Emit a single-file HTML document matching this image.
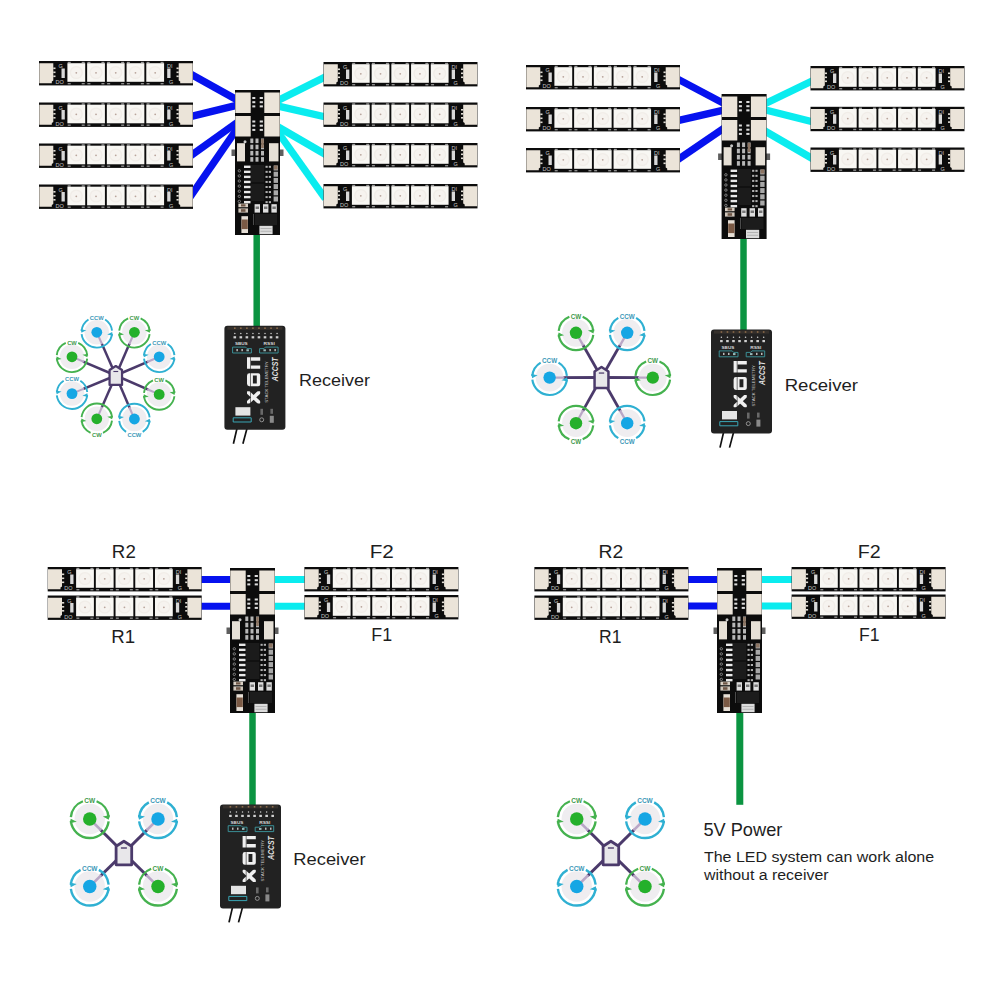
<!DOCTYPE html><html><head><meta charset="utf-8"><style>html,body{margin:0;padding:0;background:#fff;}svg{display:block;}</style></head><body>
<svg width="1000" height="1000" viewBox="0 0 1000 1000">
<defs><g id="strip"><rect x="0" y="0" width="154" height="24.4" fill="#0c0c0c"/><path d="M0.3,2.2 h14 v17.4 l-1.5,0.8 v1.8 h-12.5 z" fill="#ebe4d9"/><path d="M153.7,2.2 h-14 v17.4 l1.5,0.8 v1.8 h12.5 z" fill="#ebe4d9"/><rect x="14.3" y="6.5" width="2.2" height="1.6" fill="#e0dcd4"/><rect x="137.5" y="6.5" width="2.2" height="1.6" fill="#e0dcd4"/><rect x="14.3" y="10.5" width="2.2" height="1.6" fill="#e0dcd4"/><rect x="137.5" y="10.5" width="2.2" height="1.6" fill="#e0dcd4"/><rect x="14.3" y="14.5" width="2.2" height="1.6" fill="#e0dcd4"/><rect x="137.5" y="14.5" width="2.2" height="1.6" fill="#e0dcd4"/><rect x="22.5" y="7.5" width="3.3" height="9.5" fill="#d8d8d8"/><rect x="128.2" y="7.5" width="3.3" height="9.5" fill="#d8d8d8"/><text x="19.5" y="7" font-size="5.5" fill="#c4c4c4" font-family="Liberation Sans">G</text><text x="16.5" y="23" font-size="5.5" fill="#c4c4c4" font-family="Liberation Sans">DO</text><text x="128" y="7" font-size="5.5" fill="#c4c4c4" font-family="Liberation Sans">DI</text><text x="130" y="23" font-size="5.5" fill="#c4c4c4" font-family="Liberation Sans">G</text><rect x="28.7" y="0.8" width="3" height="1.4" fill="#9a9a9a"/><rect x="42.7" y="0.8" width="3" height="1.4" fill="#9a9a9a"/><rect x="28.4" y="2.2" width="17.8" height="18.6" fill="#f8f7f3"/><circle cx="37.3" cy="11.5" r="6.6" fill="#f1ede8"/><circle cx="37.3" cy="11.5" r="5.2" fill="#f6f3ef"/><circle cx="37.3" cy="11.8" r="0.9" fill="#b9a59c"/><rect x="28.7" y="22" width="3" height="1.4" fill="#8a8a8a"/><rect x="42.7" y="22" width="3" height="1.4" fill="#8a8a8a"/><rect x="48.42" y="0.8" width="3" height="1.4" fill="#9a9a9a"/><rect x="62.42" y="0.8" width="3" height="1.4" fill="#9a9a9a"/><rect x="48.12" y="2.2" width="17.8" height="18.6" fill="#f8f7f3"/><circle cx="57.02" cy="11.5" r="6.6" fill="#f1ede8"/><circle cx="57.02" cy="11.5" r="5.2" fill="#f6f3ef"/><circle cx="57.02" cy="11.8" r="0.9" fill="#b9a59c"/><rect x="48.42" y="22" width="3" height="1.4" fill="#8a8a8a"/><rect x="62.42" y="22" width="3" height="1.4" fill="#8a8a8a"/><rect x="68.14" y="0.8" width="3" height="1.4" fill="#9a9a9a"/><rect x="82.14" y="0.8" width="3" height="1.4" fill="#9a9a9a"/><rect x="67.84" y="2.2" width="17.8" height="18.6" fill="#f8f7f3"/><circle cx="76.74" cy="11.5" r="6.6" fill="#f1ede8"/><circle cx="76.74" cy="11.5" r="5.2" fill="#f6f3ef"/><circle cx="76.74" cy="11.8" r="0.9" fill="#b9a59c"/><rect x="68.14" y="22" width="3" height="1.4" fill="#8a8a8a"/><rect x="82.14" y="22" width="3" height="1.4" fill="#8a8a8a"/><rect x="87.86" y="0.8" width="3" height="1.4" fill="#9a9a9a"/><rect x="101.86" y="0.8" width="3" height="1.4" fill="#9a9a9a"/><rect x="87.56" y="2.2" width="17.8" height="18.6" fill="#f8f7f3"/><circle cx="96.46" cy="11.5" r="6.6" fill="#f1ede8"/><circle cx="96.46" cy="11.5" r="5.2" fill="#f6f3ef"/><circle cx="96.46" cy="11.8" r="0.9" fill="#b9a59c"/><rect x="87.86" y="22" width="3" height="1.4" fill="#8a8a8a"/><rect x="101.86" y="22" width="3" height="1.4" fill="#8a8a8a"/><rect x="107.58" y="0.8" width="3" height="1.4" fill="#9a9a9a"/><rect x="121.58" y="0.8" width="3" height="1.4" fill="#9a9a9a"/><rect x="107.28" y="2.2" width="17.8" height="18.6" fill="#f8f7f3"/><circle cx="116.18" cy="11.5" r="6.6" fill="#f1ede8"/><circle cx="116.18" cy="11.5" r="5.2" fill="#f6f3ef"/><circle cx="116.18" cy="11.8" r="0.9" fill="#b9a59c"/><rect x="107.58" y="22" width="3" height="1.4" fill="#8a8a8a"/><rect x="121.58" y="22" width="3" height="1.4" fill="#8a8a8a"/></g><g id="ctrl"><rect x="-3.5" y="59.5" width="5" height="6.5" fill="#5e5e5e"/><rect x="43.5" y="59.5" width="5" height="6.5" fill="#5e5e5e"/><rect x="0" y="0" width="45" height="145" fill="#0c0c0c"/><rect x="0.3" y="2.5" width="15.4" height="20.5" fill="#ebe4d9"/><rect x="29.3" y="2.5" width="15.4" height="20.5" fill="#ebe4d9"/><rect x="0.3" y="26" width="15.4" height="20.5" fill="#ebe4d9"/><rect x="29.3" y="26" width="15.4" height="20.5" fill="#ebe4d9"/><rect x="17.3" y="7" width="3" height="2" fill="#dcdcdc"/><rect x="24.7" y="7" width="3.2" height="2" fill="#dcdcdc"/><rect x="17.3" y="11.2" width="3" height="2" fill="#dcdcdc"/><rect x="24.7" y="11.2" width="3.2" height="2" fill="#dcdcdc"/><rect x="17.3" y="15.4" width="3" height="2" fill="#dcdcdc"/><rect x="24.7" y="15.4" width="3.2" height="2" fill="#dcdcdc"/><rect x="17.3" y="30.5" width="3" height="2" fill="#dcdcdc"/><rect x="24.7" y="30.5" width="3.2" height="2" fill="#dcdcdc"/><rect x="17.3" y="34.7" width="3" height="2" fill="#dcdcdc"/><rect x="24.7" y="34.7" width="3.2" height="2" fill="#dcdcdc"/><rect x="17.3" y="38.9" width="3" height="2" fill="#dcdcdc"/><rect x="24.7" y="38.9" width="3.2" height="2" fill="#dcdcdc"/><rect x="2" y="53.2" width="8" height="18.2" fill="#e6e0d6"/><rect x="34" y="53.2" width="9.5" height="18.2" fill="#e6e0d6"/><circle cx="10" cy="51.8" r="1.5" fill="#c8c8c8"/><rect x="15.3" y="48.5" width="3" height="4.6" fill="#d6d6d6" opacity="0.85"/><rect x="15.3" y="54.7" width="3" height="4.6" fill="#d6d6d6" opacity="0.85"/><rect x="15.3" y="60.9" width="3" height="4.6" fill="#d6d6d6" opacity="0.85"/><rect x="15.3" y="67.1" width="3" height="4.6" fill="#d6d6d6" opacity="0.85"/><rect x="20.5" y="48.5" width="3" height="4.6" fill="#d6d6d6" opacity="0.85"/><rect x="20.5" y="54.7" width="3" height="4.6" fill="#d6d6d6" opacity="0.85"/><rect x="20.5" y="60.9" width="3" height="4.6" fill="#d6d6d6" opacity="0.85"/><rect x="20.5" y="67.1" width="3" height="4.6" fill="#d6d6d6" opacity="0.85"/><rect x="26" y="48.5" width="3" height="4.6" fill="#d6d6d6" opacity="0.85"/><rect x="26" y="54.7" width="3" height="4.6" fill="#d6d6d6" opacity="0.85"/><rect x="26" y="60.9" width="3" height="4.6" fill="#d6d6d6" opacity="0.85"/><rect x="26" y="67.1" width="3" height="4.6" fill="#d6d6d6" opacity="0.85"/><rect x="26.2" y="49" width="2.6" height="9" fill="#8c7462"/><rect x="16" y="75" width="13.3" height="17.4" fill="#1b1b1b"/><rect x="16" y="93.6" width="13.3" height="17.4" fill="#1b1b1b"/><rect x="9" y="75.6" width="6.5" height="2.4" fill="#e8e8e8"/><rect x="30.5" y="75.8" width="2.2" height="2" fill="#b0b0b0"/><rect x="33.8" y="75.8" width="2.2" height="2" fill="#b0b0b0"/><rect x="9" y="80.65" width="6.5" height="2.4" fill="#e8e8e8"/><rect x="30.5" y="80.85" width="2.2" height="2" fill="#b0b0b0"/><rect x="33.8" y="80.85" width="2.2" height="2" fill="#b0b0b0"/><rect x="9" y="85.7" width="6.5" height="2.4" fill="#e8e8e8"/><rect x="30.5" y="85.9" width="2.2" height="2" fill="#b0b0b0"/><rect x="33.8" y="85.9" width="2.2" height="2" fill="#b0b0b0"/><rect x="9" y="90.75" width="6.5" height="2.4" fill="#e8e8e8"/><rect x="30.5" y="90.95" width="2.2" height="2" fill="#b0b0b0"/><rect x="33.8" y="90.95" width="2.2" height="2" fill="#b0b0b0"/><rect x="9" y="95.8" width="6.5" height="2.4" fill="#e8e8e8"/><rect x="30.5" y="96" width="2.2" height="2" fill="#b0b0b0"/><rect x="33.8" y="96" width="2.2" height="2" fill="#b0b0b0"/><rect x="9" y="100.85" width="6.5" height="2.4" fill="#e8e8e8"/><rect x="30.5" y="101.05" width="2.2" height="2" fill="#b0b0b0"/><rect x="33.8" y="101.05" width="2.2" height="2" fill="#b0b0b0"/><rect x="9" y="105.9" width="6.5" height="2.4" fill="#e8e8e8"/><rect x="30.5" y="106.1" width="2.2" height="2" fill="#b0b0b0"/><rect x="33.8" y="106.1" width="2.2" height="2" fill="#b0b0b0"/><rect x="9" y="110.95" width="6.5" height="2.4" fill="#e8e8e8"/><rect x="30.5" y="111.15" width="2.2" height="2" fill="#b0b0b0"/><rect x="33.8" y="111.15" width="2.2" height="2" fill="#b0b0b0"/><circle cx="4.3" cy="80.8" r="1.2" fill="none" stroke="#a8a8a8" stroke-width="0.7"/><circle cx="4.3" cy="85.9" r="1.2" fill="none" stroke="#a8a8a8" stroke-width="0.7"/><circle cx="4.3" cy="91" r="1.2" fill="none" stroke="#a8a8a8" stroke-width="0.7"/><circle cx="4.3" cy="96.1" r="1.2" fill="none" stroke="#a8a8a8" stroke-width="0.7"/><circle cx="4.3" cy="101.2" r="1.2" fill="none" stroke="#a8a8a8" stroke-width="0.7"/><circle cx="4.3" cy="106.3" r="1.2" fill="none" stroke="#a8a8a8" stroke-width="0.7"/><circle cx="4.3" cy="111.4" r="1.2" fill="none" stroke="#a8a8a8" stroke-width="0.7"/><rect x="38.6" y="75.5" width="4.4" height="5" fill="#cfcfcf" opacity="0.8"/><rect x="38.6" y="81.7" width="4.4" height="5" fill="#cfcfcf" opacity="0.8"/><rect x="38.6" y="87.9" width="4.4" height="5" fill="#cfcfcf" opacity="0.8"/><rect x="38.6" y="94.1" width="4.4" height="5" fill="#cfcfcf" opacity="0.8"/><rect x="38.6" y="100.3" width="4.4" height="5" fill="#cfcfcf" opacity="0.8"/><rect x="38.6" y="106.5" width="4.4" height="5" fill="#cfcfcf" opacity="0.8"/><rect x="39" y="75.5" width="3.6" height="4" fill="#8c7462"/><rect x="3.4" y="113.6" width="9.6" height="3.6" fill="#d8cfc4"/><rect x="3.4" y="118.4" width="9.6" height="4.2" fill="#cfc6bb"/><rect x="6" y="114.3" width="4.5" height="2.2" fill="#6e5646"/><rect x="6" y="119.2" width="4.5" height="2.6" fill="#6e5646"/><rect x="19.6" y="114.2" width="5.4" height="8.4" fill="#dedede"/><rect x="20.6" y="116.5" width="3.4" height="2.5" fill="#777"/><rect x="28" y="114.2" width="5.4" height="8.4" fill="#dedede"/><rect x="29" y="116.5" width="3.4" height="2.5" fill="#777"/><rect x="36.4" y="114.2" width="5.4" height="8.4" fill="#dedede"/><rect x="37.4" y="116.5" width="3.4" height="2.5" fill="#777"/><rect x="18.4" y="124" width="0.6" height="11" fill="#777"/><rect x="20" y="124" width="22" height="11" fill="#1c1c1c"/><rect x="6.4" y="126.2" width="6.6" height="16.8" fill="#e6dfd6"/><rect x="6.6" y="129.5" width="6.2" height="9.6" fill="#7b5a45"/><rect x="24.4" y="135.8" width="13.2" height="8.4" fill="#dcdcdc"/><rect x="25.5" y="138" width="11" height="0.8" fill="#aaa"/><rect x="25.5" y="140.8" width="11" height="0.8" fill="#aaa"/></g><clipPath id="xclip"><rect x="22.6" y="65.4" width="13.2" height="12.3"/></clipPath><g id="rx"><line x1="12.5" y1="103" x2="9" y2="118" stroke="#111" stroke-width="1.7"/><line x1="22.5" y1="103" x2="18.5" y2="118" stroke="#111" stroke-width="1.7"/><rect x="0" y="0" width="61" height="104" rx="3" fill="#222"/><rect x="3" y="1" width="55" height="3" fill="#35302c"/><rect x="9.6" y="1.6" width="1.6" height="1.6" fill="#8a6a4a"/><circle cx="10.4" cy="7.6" r="0.75" fill="#cfcfcf"/><rect x="9.1" y="10.4" width="2.6" height="2.2" fill="#d0d0d0"/><rect x="15.64" y="1.6" width="1.6" height="1.6" fill="#8a6a4a"/><circle cx="16.44" cy="7.6" r="0.75" fill="#cfcfcf"/><rect x="15.14" y="10.4" width="2.6" height="2.2" fill="#d0d0d0"/><rect x="21.68" y="1.6" width="1.6" height="1.6" fill="#8a6a4a"/><circle cx="22.48" cy="7.6" r="0.75" fill="#cfcfcf"/><rect x="21.18" y="10.4" width="2.6" height="2.2" fill="#d0d0d0"/><rect x="27.72" y="1.6" width="1.6" height="1.6" fill="#8a6a4a"/><circle cx="28.52" cy="7.6" r="0.75" fill="#cfcfcf"/><rect x="27.22" y="10.4" width="2.6" height="2.2" fill="#d0d0d0"/><rect x="33.76" y="1.6" width="1.6" height="1.6" fill="#8a6a4a"/><circle cx="34.56" cy="7.6" r="0.75" fill="#cfcfcf"/><rect x="33.26" y="10.4" width="2.6" height="2.2" fill="#d0d0d0"/><rect x="39.8" y="1.6" width="1.6" height="1.6" fill="#8a6a4a"/><circle cx="40.6" cy="7.6" r="0.75" fill="#cfcfcf"/><rect x="39.3" y="10.4" width="2.6" height="2.2" fill="#d0d0d0"/><rect x="45.84" y="1.6" width="1.6" height="1.6" fill="#8a6a4a"/><circle cx="46.64" cy="7.6" r="0.75" fill="#cfcfcf"/><rect x="45.34" y="10.4" width="2.6" height="2.2" fill="#d0d0d0"/><rect x="51.88" y="1.6" width="1.6" height="1.6" fill="#8a6a4a"/><circle cx="52.68" cy="7.6" r="0.75" fill="#cfcfcf"/><rect x="51.38" y="10.4" width="2.6" height="2.2" fill="#d0d0d0"/><text x="10.5" y="19.3" font-size="4.4" font-weight="bold" fill="#d8d8d8" font-family="Liberation Sans" textLength="12.8" lengthAdjust="spacingAndGlyphs">SBUS</text><text x="39.2" y="19.3" font-size="4.4" font-weight="bold" fill="#d8d8d8" font-family="Liberation Sans" textLength="11.2" lengthAdjust="spacingAndGlyphs">RSSI</text><path d="M8.2,21.3 h13 l1.5,1.5 h4.3 v4.4 h-18.8 z" fill="none" stroke="#3d9aa2" stroke-width="0.9"/><path d="M35.2,22.8 h4.3 l1.5,-1.5 h12.7 v5.9 h-18.5 z" fill="none" stroke="#3d9aa2" stroke-width="0.9"/><rect x="12" y="23.2" width="1.5" height="2.2" fill="#bbb"/><rect x="17" y="23.2" width="1.5" height="2.2" fill="#bbb"/><rect x="22" y="23.5" width="2.5" height="2" fill="#9bb"/><rect x="39" y="23.5" width="2.5" height="2" fill="#9bb"/><rect x="45" y="23.2" width="1.5" height="2.2" fill="#bbb"/><rect x="50" y="23.2" width="1.5" height="2.2" fill="#bbb"/><path d="M8.8,92 h18 v4.2 h-18 z" fill="none" stroke="#3aa6b5" stroke-width="1"/><path d="M22.6,31.5 h13.2 v3.4 h-9.3 v4.7 h9.3 v3.4 h-13.2 z" fill="#f0f0f0"/><path d="M25,47.5 h8.8 a2,2 0 0 1 2,2 v8.9 a2,2 0 0 1 -2,2 h-8.8 a2.4,2.4 0 0 1 -2.4,-2.4 v-8.1 a2.4,2.4 0 0 1 2.4,-2.4 z M28.5,49.7 v7.9 h3.9 v-7.9 z" fill="#f0f0f0" fill-rule="evenodd"/><g clip-path="url(#xclip)"><line x1="22.6" y1="65.4" x2="35.8" y2="77.7" stroke="#f0f0f0" stroke-width="3.6"/><line x1="22.6" y1="77.7" x2="35.8" y2="65.4" stroke="#f0f0f0" stroke-width="3.6"/></g><rect x="25.8" y="31" width="0.6" height="47" fill="#222"/><text transform="translate(43.8,77) rotate(-90)" font-size="4" fill="#c8c8c8" font-family="Liberation Sans" textLength="41.6" lengthAdjust="spacingAndGlyphs">STACK TELEMETRY</text><text transform="translate(53.8,55.4) rotate(-90)" font-size="8.3" font-style="italic" font-weight="bold" fill="#e0e0e0" font-family="Liberation Sans" textLength="23.6" lengthAdjust="spacingAndGlyphs">ACCST</text><rect x="11" y="81.4" width="15" height="8.4" fill="#e4e4e4"/><rect x="45.4" y="90" width="4" height="7" fill="#8a8a8a"/><circle cx="37.3" cy="94" r="2" fill="none" stroke="#aaa" stroke-width="0.8"/><rect x="36" y="83" width="2.6" height="6" fill="#999" opacity="0.6"/><rect x="46" y="83" width="2.6" height="5" fill="#999" opacity="0.6"/></g></defs>
<rect width="1000" height="1000" fill="#fff"/>
<line x1="188.71" y1="72.95" x2="238.19" y2="100.55" stroke="#0612ef" stroke-width="7.3"/>
<line x1="188.31" y1="117.15" x2="238.59" y2="104.85" stroke="#0612ef" stroke-width="7.3"/>
<line x1="188.95" y1="157.03" x2="237.95" y2="121.87" stroke="#0612ef" stroke-width="7.3"/>
<line x1="189.93" y1="197.3" x2="236.97" y2="128.9" stroke="#0612ef" stroke-width="7.3"/>
<line x1="326.58" y1="76.21" x2="276.42" y2="101.29" stroke="#0aecef" stroke-width="7.3"/>
<line x1="326.9" y1="117.3" x2="276.1" y2="105.6" stroke="#0aecef" stroke-width="7.3"/>
<line x1="326.46" y1="155.01" x2="276.54" y2="125.99" stroke="#0aecef" stroke-width="7.3"/>
<line x1="325.32" y1="198.76" x2="277.68" y2="131.74" stroke="#0aecef" stroke-width="7.3"/>
<line x1="675.96" y1="78.13" x2="725.54" y2="104.37" stroke="#0612ef" stroke-width="7.3"/>
<line x1="675.6" y1="121.14" x2="725.9" y2="109.61" stroke="#0612ef" stroke-width="7.3"/>
<line x1="676.2" y1="160.75" x2="725.3" y2="127.25" stroke="#0612ef" stroke-width="7.3"/>
<line x1="814.1" y1="80.01" x2="763.9" y2="104.24" stroke="#0aecef" stroke-width="7.3"/>
<line x1="814.38" y1="122.22" x2="763.62" y2="109.53" stroke="#0aecef" stroke-width="7.3"/>
<line x1="813.96" y1="159.51" x2="764.04" y2="130.49" stroke="#0aecef" stroke-width="7.3"/>
<line x1="198" y1="579.4" x2="234" y2="579.4" stroke="#0612ef" stroke-width="7"/>
<line x1="198" y1="606.3" x2="234" y2="606.3" stroke="#0612ef" stroke-width="7"/>
<line x1="272" y1="579.6" x2="308" y2="579.6" stroke="#0aecef" stroke-width="7"/>
<line x1="272" y1="606.2" x2="308" y2="606.2" stroke="#0aecef" stroke-width="7"/>
<line x1="685" y1="579.6" x2="721" y2="579.6" stroke="#0612ef" stroke-width="7"/>
<line x1="685" y1="606" x2="721" y2="606" stroke="#0612ef" stroke-width="7"/>
<line x1="759" y1="579.6" x2="795" y2="579.6" stroke="#0aecef" stroke-width="7"/>
<line x1="759" y1="606" x2="795" y2="606" stroke="#0aecef" stroke-width="7"/>
<line x1="256.7" y1="230" x2="256.7" y2="328" stroke="#0b9441" stroke-width="6.5"/>
<line x1="743.5" y1="235" x2="743.5" y2="332" stroke="#0b9441" stroke-width="6.5"/>
<line x1="252.5" y1="709" x2="252.5" y2="807" stroke="#0b9441" stroke-width="6.5"/>
<line x1="739.8" y1="709" x2="739.8" y2="804.8" stroke="#0b9441" stroke-width="7"/>
<use href="#strip" x="39" y="61" />
<use href="#strip" x="39" y="102.5" />
<use href="#strip" x="39" y="143.5" />
<use href="#strip" x="39" y="184.5" />
<use href="#strip" x="323.5" y="62" />
<use href="#strip" x="323.5" y="102.5" />
<use href="#strip" x="323.5" y="143" />
<use href="#strip" x="323.5" y="184" />
<use href="#strip" x="526" y="65" />
<use href="#strip" x="526" y="107" />
<use href="#strip" x="526" y="148" />
<use href="#strip" x="810.5" y="66" />
<use href="#strip" x="810.5" y="106.8" />
<use href="#strip" x="810.5" y="147.5" />
<use href="#strip" x="47.7" y="567" />
<use href="#strip" x="47.7" y="595.5" />
<use href="#strip" x="304.4" y="567" />
<use href="#strip" x="304.4" y="595" />
<use href="#strip" x="534.4" y="567" />
<use href="#strip" x="534.4" y="595.5" />
<use href="#strip" x="791.6" y="567" />
<use href="#strip" x="791.6" y="594.5" />
<use href="#ctrl" x="235" y="90" />
<use href="#ctrl" x="721.6" y="94" />
<use href="#ctrl" x="230" y="568" />
<use href="#ctrl" x="717" y="568" />
<use href="#rx" x="224.4" y="325.8" />
<use href="#rx" x="711" y="329.6" />
<use href="#rx" x="220" y="804.4" />
<text x="0" y="386.2" font-size="17.4" fill="#1e1e1e" font-family="Liberation Sans, sans-serif" transform="translate(299.120,0) scale(1.0334,1)">Receiver</text>
<text x="0" y="391" font-size="17.4" fill="#1e1e1e" font-family="Liberation Sans, sans-serif" transform="translate(784.651,0) scale(1.0694,1)">Receiver</text>
<text x="0" y="865.5" font-size="17.4" fill="#1e1e1e" font-family="Liberation Sans, sans-serif" transform="translate(293.315,0) scale(1.0541,1)">Receiver</text>
<text x="0" y="558" font-size="17.6" fill="#1e1e1e" font-family="Liberation Sans, sans-serif" transform="translate(111.872,0) scale(1.0639,1)">R2</text>
<text x="0" y="643" font-size="17.6" fill="#1e1e1e" font-family="Liberation Sans, sans-serif" transform="translate(111.290,0) scale(1.0612,1)">R1</text>
<text x="0" y="558" font-size="17.6" fill="#1e1e1e" font-family="Liberation Sans, sans-serif" transform="translate(369.647,0) scale(1.1765,1)">F2</text>
<text x="0" y="641" font-size="17.6" fill="#1e1e1e" font-family="Liberation Sans, sans-serif" transform="translate(371.354,0) scale(1.0127,1)">F1</text>
<text x="0" y="558" font-size="17.6" fill="#1e1e1e" font-family="Liberation Sans, sans-serif" transform="translate(598.461,0) scale(1.0959,1)">R2</text>
<text x="0" y="643" font-size="17.6" fill="#1e1e1e" font-family="Liberation Sans, sans-serif" transform="translate(599.000,0) scale(1.0000,1)">R1</text>
<text x="0" y="557.6" font-size="17.6" fill="#1e1e1e" font-family="Liberation Sans, sans-serif" transform="translate(857.765,0) scale(1.1176,1)">F2</text>
<text x="0" y="641" font-size="17.6" fill="#1e1e1e" font-family="Liberation Sans, sans-serif" transform="translate(859.000,0) scale(1.0000,1)">F1</text>
<text x="0" y="836.5" font-size="17.8" fill="#1e1e1e" font-family="Liberation Sans, sans-serif" transform="translate(703.393,0) scale(1.0232,1)">5V Power</text>
<text x="0" y="862" font-size="15.2" fill="#1e1e1e" font-family="Liberation Sans, sans-serif" transform="translate(703.947,0) scale(1.0528,1)">The LED system can work alone</text>
<text x="0" y="879.7" font-size="15.2" fill="#1e1e1e" font-family="Liberation Sans, sans-serif" transform="translate(703.954,0) scale(1.0462,1)">without a receiver</text>
<line x1="115.8" y1="375.5" x2="96.8" y2="332.3" stroke="#4b3a6b" stroke-width="2.48"/>
<line x1="115.8" y1="375.5" x2="134.4" y2="332.3" stroke="#4b3a6b" stroke-width="2.48"/>
<line x1="115.8" y1="375.5" x2="159.2" y2="356.8" stroke="#4b3a6b" stroke-width="2.48"/>
<line x1="115.8" y1="375.5" x2="159.2" y2="394.4" stroke="#4b3a6b" stroke-width="2.48"/>
<line x1="115.8" y1="375.5" x2="134.4" y2="419" stroke="#4b3a6b" stroke-width="2.48"/>
<line x1="115.8" y1="375.5" x2="96.8" y2="418.8" stroke="#4b3a6b" stroke-width="2.48"/>
<line x1="115.8" y1="375.5" x2="72" y2="393.6" stroke="#4b3a6b" stroke-width="2.48"/>
<line x1="115.8" y1="375.5" x2="72" y2="356.8" stroke="#4b3a6b" stroke-width="2.48"/>
<circle cx="96.8" cy="332.3" r="12.24" fill="#efedf0"/>
<line x1="96.8" y1="332.3" x2="102.04" y2="344.2" stroke="#b9a6c6" stroke-width="2.08"/>
<g transform="translate(96.8,332.3) scale(-1,1)"><path d="M8.33,-12.84 A15.3,15.3 0 0 1 15.24,-1.33" fill="none" stroke="#2fb0d2" stroke-width="1.91"/><path d="M15.19,1.86 A15.3,15.3 0 0 1 -15.22,1.6" fill="none" stroke="#2fb0d2" stroke-width="1.91"/><path d="M-15.22,-1.6 A15.3,15.3 0 0 1 -8.33,-12.84" fill="none" stroke="#2fb0d2" stroke-width="1.91"/><path d="M15.29,0.53 L16.15,-3.14 L10.51,-2.04 Z" fill="#2fb0d2"/><path d="M-15.3,-0.27 L-16.09,3.42 L-10.48,2.23 Z" fill="#2fb0d2"/></g>
<circle cx="96.8" cy="332.3" r="5.4" fill="#16a6e4"/>
<text x="96.8" y="320.02" font-size="5.8" font-weight="bold" fill="#3b98b8" font-family="Liberation Sans, sans-serif" text-anchor="middle">CCW</text>
<circle cx="134.4" cy="332.3" r="12.24" fill="#efedf0"/>
<line x1="134.4" y1="332.3" x2="129.26" y2="344.24" stroke="#b9a6c6" stroke-width="2.08"/>
<g transform="translate(134.4,332.3)"><path d="M6.23,-13.97 A15.3,15.3 0 0 1 15.24,-1.33" fill="none" stroke="#45b24f" stroke-width="1.91"/><path d="M15.19,1.86 A15.3,15.3 0 0 1 -15.22,1.6" fill="none" stroke="#45b24f" stroke-width="1.91"/><path d="M-15.22,-1.6 A15.3,15.3 0 0 1 -6.23,-13.97" fill="none" stroke="#45b24f" stroke-width="1.91"/><path d="M15.29,0.53 L16.15,-3.14 L10.51,-2.04 Z" fill="#45b24f"/><path d="M-15.3,-0.27 L-16.09,3.42 L-10.48,2.23 Z" fill="#45b24f"/></g>
<circle cx="134.4" cy="332.3" r="5.4" fill="#25b02b"/>
<text x="134.4" y="320.02" font-size="5.8" font-weight="bold" fill="#3f9a4c" font-family="Liberation Sans, sans-serif" text-anchor="middle">CW</text>
<circle cx="159.2" cy="356.8" r="12.24" fill="#efedf0"/>
<line x1="159.2" y1="356.8" x2="147.26" y2="361.95" stroke="#b9a6c6" stroke-width="2.08"/>
<g transform="translate(159.2,356.8) scale(-1,1)"><path d="M8.33,-12.84 A15.3,15.3 0 0 1 15.24,-1.33" fill="none" stroke="#2fb0d2" stroke-width="1.91"/><path d="M15.19,1.86 A15.3,15.3 0 0 1 -15.22,1.6" fill="none" stroke="#2fb0d2" stroke-width="1.91"/><path d="M-15.22,-1.6 A15.3,15.3 0 0 1 -8.33,-12.84" fill="none" stroke="#2fb0d2" stroke-width="1.91"/><path d="M15.29,0.53 L16.15,-3.14 L10.51,-2.04 Z" fill="#2fb0d2"/><path d="M-15.3,-0.27 L-16.09,3.42 L-10.48,2.23 Z" fill="#2fb0d2"/></g>
<circle cx="159.2" cy="356.8" r="5.4" fill="#16a6e4"/>
<text x="159.2" y="344.52" font-size="5.8" font-weight="bold" fill="#3b98b8" font-family="Liberation Sans, sans-serif" text-anchor="middle">CCW</text>
<circle cx="159.2" cy="394.4" r="12.24" fill="#efedf0"/>
<line x1="159.2" y1="394.4" x2="147.28" y2="389.21" stroke="#b9a6c6" stroke-width="2.08"/>
<g transform="translate(159.2,394.4)"><path d="M6.23,-13.97 A15.3,15.3 0 0 1 15.24,-1.33" fill="none" stroke="#45b24f" stroke-width="1.91"/><path d="M15.19,1.86 A15.3,15.3 0 0 1 -15.22,1.6" fill="none" stroke="#45b24f" stroke-width="1.91"/><path d="M-15.22,-1.6 A15.3,15.3 0 0 1 -6.23,-13.97" fill="none" stroke="#45b24f" stroke-width="1.91"/><path d="M15.29,0.53 L16.15,-3.14 L10.51,-2.04 Z" fill="#45b24f"/><path d="M-15.3,-0.27 L-16.09,3.42 L-10.48,2.23 Z" fill="#45b24f"/></g>
<circle cx="159.2" cy="394.4" r="5.4" fill="#25b02b"/>
<text x="159.2" y="382.12" font-size="5.8" font-weight="bold" fill="#3f9a4c" font-family="Liberation Sans, sans-serif" text-anchor="middle">CW</text>
<circle cx="134.4" cy="419" r="12.24" fill="#efedf0"/>
<line x1="134.4" y1="419" x2="129.29" y2="407.04" stroke="#b9a6c6" stroke-width="2.08"/>
<g transform="translate(134.4,419) scale(-1,1)"><path d="M-15.22,-1.6 A15.3,15.3 0 0 1 15.24,-1.33" fill="none" stroke="#2fb0d2" stroke-width="1.91"/><path d="M15.19,1.86 A15.3,15.3 0 0 1 8.33,12.84" fill="none" stroke="#2fb0d2" stroke-width="1.91"/><path d="M-8.33,12.84 A15.3,15.3 0 0 1 -15.22,1.6" fill="none" stroke="#2fb0d2" stroke-width="1.91"/><path d="M15.29,0.53 L16.15,-3.14 L10.51,-2.04 Z" fill="#2fb0d2"/><path d="M-15.3,-0.27 L-16.09,3.42 L-10.48,2.23 Z" fill="#2fb0d2"/></g>
<circle cx="134.4" cy="419" r="5.4" fill="#16a6e4"/>
<text x="134.4" y="437.03" font-size="5.8" font-weight="bold" fill="#3b98b8" font-family="Liberation Sans, sans-serif" text-anchor="middle">CCW</text>
<circle cx="96.8" cy="418.8" r="12.24" fill="#efedf0"/>
<line x1="96.8" y1="418.8" x2="102.03" y2="406.89" stroke="#b9a6c6" stroke-width="2.08"/>
<g transform="translate(96.8,418.8)"><path d="M-15.22,-1.6 A15.3,15.3 0 0 1 15.24,-1.33" fill="none" stroke="#45b24f" stroke-width="1.91"/><path d="M15.19,1.86 A15.3,15.3 0 0 1 6.23,13.97" fill="none" stroke="#45b24f" stroke-width="1.91"/><path d="M-6.23,13.97 A15.3,15.3 0 0 1 -15.22,1.6" fill="none" stroke="#45b24f" stroke-width="1.91"/><path d="M15.29,0.53 L16.15,-3.14 L10.51,-2.04 Z" fill="#45b24f"/><path d="M-15.3,-0.27 L-16.09,3.42 L-10.48,2.23 Z" fill="#45b24f"/></g>
<circle cx="96.8" cy="418.8" r="5.4" fill="#25b02b"/>
<text x="96.8" y="436.83" font-size="5.8" font-weight="bold" fill="#3f9a4c" font-family="Liberation Sans, sans-serif" text-anchor="middle">CW</text>
<circle cx="72" cy="393.6" r="12.24" fill="#efedf0"/>
<line x1="72" y1="393.6" x2="84.02" y2="388.63" stroke="#b9a6c6" stroke-width="2.08"/>
<g transform="translate(72,393.6) scale(-1,1)"><path d="M8.33,-12.84 A15.3,15.3 0 0 1 15.24,-1.33" fill="none" stroke="#2fb0d2" stroke-width="1.91"/><path d="M15.19,1.86 A15.3,15.3 0 0 1 -15.22,1.6" fill="none" stroke="#2fb0d2" stroke-width="1.91"/><path d="M-15.22,-1.6 A15.3,15.3 0 0 1 -8.33,-12.84" fill="none" stroke="#2fb0d2" stroke-width="1.91"/><path d="M15.29,0.53 L16.15,-3.14 L10.51,-2.04 Z" fill="#2fb0d2"/><path d="M-15.3,-0.27 L-16.09,3.42 L-10.48,2.23 Z" fill="#2fb0d2"/></g>
<circle cx="72" cy="393.6" r="5.4" fill="#16a6e4"/>
<text x="72" y="381.32" font-size="5.8" font-weight="bold" fill="#3b98b8" font-family="Liberation Sans, sans-serif" text-anchor="middle">CCW</text>
<circle cx="72" cy="356.8" r="12.24" fill="#efedf0"/>
<line x1="72" y1="356.8" x2="83.96" y2="361.91" stroke="#b9a6c6" stroke-width="2.08"/>
<g transform="translate(72,356.8)"><path d="M6.23,-13.97 A15.3,15.3 0 0 1 15.24,-1.33" fill="none" stroke="#45b24f" stroke-width="1.91"/><path d="M15.19,1.86 A15.3,15.3 0 0 1 -15.22,1.6" fill="none" stroke="#45b24f" stroke-width="1.91"/><path d="M-15.22,-1.6 A15.3,15.3 0 0 1 -6.23,-13.97" fill="none" stroke="#45b24f" stroke-width="1.91"/><path d="M15.29,0.53 L16.15,-3.14 L10.51,-2.04 Z" fill="#45b24f"/><path d="M-15.3,-0.27 L-16.09,3.42 L-10.48,2.23 Z" fill="#45b24f"/></g>
<circle cx="72" cy="356.8" r="5.4" fill="#25b02b"/>
<text x="72" y="344.52" font-size="5.8" font-weight="bold" fill="#3f9a4c" font-family="Liberation Sans, sans-serif" text-anchor="middle">CW</text>
<path d="M115.8,366.06 L122.04,370.06 L122.04,384.94 L109.56,384.94 L109.56,370.06 Z" fill="#e8e7ea" stroke="#4b3a6b" stroke-width="2.24" stroke-linejoin="round"/>
<line x1="113.4" y1="371.5" x2="118.2" y2="371.5" stroke="#4b3a6b" stroke-width="1.12"/>
<line x1="601.5" y1="377.5" x2="576" y2="332.8" stroke="#4b3a6b" stroke-width="2.76"/>
<line x1="601.5" y1="377.5" x2="627.2" y2="332.8" stroke="#4b3a6b" stroke-width="2.76"/>
<line x1="601.5" y1="377.5" x2="652.8" y2="377.6" stroke="#4b3a6b" stroke-width="2.76"/>
<line x1="601.5" y1="377.5" x2="627.2" y2="423.2" stroke="#4b3a6b" stroke-width="2.76"/>
<line x1="601.5" y1="377.5" x2="576" y2="423.2" stroke="#4b3a6b" stroke-width="2.76"/>
<line x1="601.5" y1="377.5" x2="549.6" y2="377.6" stroke="#4b3a6b" stroke-width="2.76"/>
<circle cx="576" cy="332.8" r="13.92" fill="#efedf0"/>
<line x1="576" y1="332.8" x2="583.33" y2="345.65" stroke="#b9a6c6" stroke-width="2.31"/>
<g transform="translate(576,332.8)"><path d="M6.65,-16.08 A17.4,17.4 0 0 1 17.33,-1.52" fill="none" stroke="#45b24f" stroke-width="2.17"/><path d="M17.27,2.12 A17.4,17.4 0 0 1 -17.3,1.82" fill="none" stroke="#45b24f" stroke-width="2.17"/><path d="M-17.3,-1.82 A17.4,17.4 0 0 1 -6.65,-16.08" fill="none" stroke="#45b24f" stroke-width="2.17"/><path d="M17.39,0.61 L18.36,-3.57 L11.96,-2.32 Z" fill="#45b24f"/><path d="M-17.4,-0.3 L-18.3,3.89 L-11.91,2.53 Z" fill="#45b24f"/></g>
<circle cx="576" cy="332.8" r="6.2" fill="#25b02b"/>
<text x="576" y="318.68" font-size="6.3" font-weight="bold" fill="#3f9a4c" font-family="Liberation Sans, sans-serif" text-anchor="middle">CW</text>
<circle cx="627.2" cy="332.8" r="13.92" fill="#efedf0"/>
<line x1="627.2" y1="332.8" x2="619.83" y2="345.62" stroke="#b9a6c6" stroke-width="2.31"/>
<g transform="translate(627.2,332.8) scale(-1,1)"><path d="M8.92,-14.94 A17.4,17.4 0 0 1 17.33,-1.52" fill="none" stroke="#2fb0d2" stroke-width="2.17"/><path d="M17.27,2.12 A17.4,17.4 0 0 1 -17.3,1.82" fill="none" stroke="#2fb0d2" stroke-width="2.17"/><path d="M-17.3,-1.82 A17.4,17.4 0 0 1 -8.92,-14.94" fill="none" stroke="#2fb0d2" stroke-width="2.17"/><path d="M17.39,0.61 L18.36,-3.57 L11.96,-2.32 Z" fill="#2fb0d2"/><path d="M-17.4,-0.3 L-18.3,3.89 L-11.91,2.53 Z" fill="#2fb0d2"/></g>
<circle cx="627.2" cy="332.8" r="6.2" fill="#16a6e4"/>
<text x="627.2" y="318.68" font-size="6.3" font-weight="bold" fill="#3b98b8" font-family="Liberation Sans, sans-serif" text-anchor="middle">CCW</text>
<circle cx="652.8" cy="377.6" r="13.92" fill="#efedf0"/>
<line x1="652.8" y1="377.6" x2="638.01" y2="377.57" stroke="#b9a6c6" stroke-width="2.31"/>
<g transform="translate(652.8,377.6)"><path d="M6.65,-16.08 A17.4,17.4 0 0 1 17.33,-1.52" fill="none" stroke="#45b24f" stroke-width="2.17"/><path d="M17.27,2.12 A17.4,17.4 0 0 1 -17.3,1.82" fill="none" stroke="#45b24f" stroke-width="2.17"/><path d="M-17.3,-1.82 A17.4,17.4 0 0 1 -6.65,-16.08" fill="none" stroke="#45b24f" stroke-width="2.17"/><path d="M17.39,0.61 L18.36,-3.57 L11.96,-2.32 Z" fill="#45b24f"/><path d="M-17.4,-0.3 L-18.3,3.89 L-11.91,2.53 Z" fill="#45b24f"/></g>
<circle cx="652.8" cy="377.6" r="6.2" fill="#25b02b"/>
<text x="652.8" y="363.48" font-size="6.3" font-weight="bold" fill="#3f9a4c" font-family="Liberation Sans, sans-serif" text-anchor="middle">CW</text>
<circle cx="627.2" cy="423.2" r="13.92" fill="#efedf0"/>
<line x1="627.2" y1="423.2" x2="619.95" y2="410.31" stroke="#b9a6c6" stroke-width="2.31"/>
<g transform="translate(627.2,423.2) scale(-1,1)"><path d="M-17.3,-1.82 A17.4,17.4 0 0 1 17.33,-1.52" fill="none" stroke="#2fb0d2" stroke-width="2.17"/><path d="M17.27,2.12 A17.4,17.4 0 0 1 8.92,14.94" fill="none" stroke="#2fb0d2" stroke-width="2.17"/><path d="M-8.92,14.94 A17.4,17.4 0 0 1 -17.3,1.82" fill="none" stroke="#2fb0d2" stroke-width="2.17"/><path d="M17.39,0.61 L18.36,-3.57 L11.96,-2.32 Z" fill="#2fb0d2"/><path d="M-17.4,-0.3 L-18.3,3.89 L-11.91,2.53 Z" fill="#2fb0d2"/></g>
<circle cx="627.2" cy="423.2" r="6.2" fill="#16a6e4"/>
<text x="627.2" y="443.56" font-size="6.3" font-weight="bold" fill="#3b98b8" font-family="Liberation Sans, sans-serif" text-anchor="middle">CCW</text>
<circle cx="576" cy="423.2" r="13.92" fill="#efedf0"/>
<line x1="576" y1="423.2" x2="583.21" y2="410.28" stroke="#b9a6c6" stroke-width="2.31"/>
<g transform="translate(576,423.2)"><path d="M-17.3,-1.82 A17.4,17.4 0 0 1 17.33,-1.52" fill="none" stroke="#45b24f" stroke-width="2.17"/><path d="M17.27,2.12 A17.4,17.4 0 0 1 6.65,16.08" fill="none" stroke="#45b24f" stroke-width="2.17"/><path d="M-6.65,16.08 A17.4,17.4 0 0 1 -17.3,1.82" fill="none" stroke="#45b24f" stroke-width="2.17"/><path d="M17.39,0.61 L18.36,-3.57 L11.96,-2.32 Z" fill="#45b24f"/><path d="M-17.4,-0.3 L-18.3,3.89 L-11.91,2.53 Z" fill="#45b24f"/></g>
<circle cx="576" cy="423.2" r="6.2" fill="#25b02b"/>
<text x="576" y="443.56" font-size="6.3" font-weight="bold" fill="#3f9a4c" font-family="Liberation Sans, sans-serif" text-anchor="middle">CW</text>
<circle cx="549.6" cy="377.6" r="13.92" fill="#efedf0"/>
<line x1="549.6" y1="377.6" x2="564.39" y2="377.57" stroke="#b9a6c6" stroke-width="2.31"/>
<g transform="translate(549.6,377.6) scale(-1,1)"><path d="M8.92,-14.94 A17.4,17.4 0 0 1 17.33,-1.52" fill="none" stroke="#2fb0d2" stroke-width="2.17"/><path d="M17.27,2.12 A17.4,17.4 0 0 1 -17.3,1.82" fill="none" stroke="#2fb0d2" stroke-width="2.17"/><path d="M-17.3,-1.82 A17.4,17.4 0 0 1 -8.92,-14.94" fill="none" stroke="#2fb0d2" stroke-width="2.17"/><path d="M17.39,0.61 L18.36,-3.57 L11.96,-2.32 Z" fill="#2fb0d2"/><path d="M-17.4,-0.3 L-18.3,3.89 L-11.91,2.53 Z" fill="#2fb0d2"/></g>
<circle cx="549.6" cy="377.6" r="6.2" fill="#16a6e4"/>
<text x="549.6" y="363.48" font-size="6.3" font-weight="bold" fill="#3b98b8" font-family="Liberation Sans, sans-serif" text-anchor="middle">CCW</text>
<path d="M601.5,367 L608.44,371.45 L608.44,388 L594.56,388 L594.56,371.45 Z" fill="#e8e7ea" stroke="#4b3a6b" stroke-width="2.49" stroke-linejoin="round"/>
<line x1="598.83" y1="373.05" x2="604.17" y2="373.05" stroke="#4b3a6b" stroke-width="1.25"/>
<line x1="123.9" y1="853" x2="89.75" y2="819" stroke="#4b3a6b" stroke-width="3.1"/>
<line x1="123.9" y1="853" x2="158" y2="819" stroke="#4b3a6b" stroke-width="3.1"/>
<line x1="123.9" y1="853" x2="89.75" y2="886.5" stroke="#4b3a6b" stroke-width="3.1"/>
<line x1="123.9" y1="853" x2="158" y2="886.5" stroke="#4b3a6b" stroke-width="3.1"/>
<circle cx="89.75" cy="819" r="15.2" fill="#efedf0"/>
<line x1="89.75" y1="819" x2="101.19" y2="830.39" stroke="#b9a6c6" stroke-width="2.6"/>
<g transform="translate(89.75,819)"><path d="M6.81,-17.74 A19,19 0 0 1 18.93,-1.66" fill="none" stroke="#45b24f" stroke-width="2.38"/><path d="M18.86,2.32 A19,19 0 0 1 -18.9,1.99" fill="none" stroke="#45b24f" stroke-width="2.38"/><path d="M-18.9,-1.99 A19,19 0 0 1 -6.81,-17.74" fill="none" stroke="#45b24f" stroke-width="2.38"/><path d="M18.99,0.66 L20.05,-3.9 L13.06,-2.54 Z" fill="#45b24f"/><path d="M-19,-0.33 L-19.98,4.25 L-13.01,2.77 Z" fill="#45b24f"/></g>
<circle cx="89.75" cy="819" r="6.75" fill="#25b02b"/>
<text x="89.75" y="803.38" font-size="6.5" font-weight="bold" fill="#3f9a4c" font-family="Liberation Sans, sans-serif" text-anchor="middle">CW</text>
<circle cx="158" cy="819" r="15.2" fill="#efedf0"/>
<line x1="158" y1="819" x2="146.56" y2="830.4" stroke="#b9a6c6" stroke-width="2.6"/>
<g transform="translate(158,819) scale(-1,1)"><path d="M9.16,-16.65 A19,19 0 0 1 18.93,-1.66" fill="none" stroke="#2fb0d2" stroke-width="2.38"/><path d="M18.86,2.32 A19,19 0 0 1 -18.9,1.99" fill="none" stroke="#2fb0d2" stroke-width="2.38"/><path d="M-18.9,-1.99 A19,19 0 0 1 -9.16,-16.65" fill="none" stroke="#2fb0d2" stroke-width="2.38"/><path d="M18.99,0.66 L20.05,-3.9 L13.06,-2.54 Z" fill="#2fb0d2"/><path d="M-19,-0.33 L-19.98,4.25 L-13.01,2.77 Z" fill="#2fb0d2"/></g>
<circle cx="158" cy="819" r="6.75" fill="#16a6e4"/>
<text x="158" y="803.38" font-size="6.5" font-weight="bold" fill="#3b98b8" font-family="Liberation Sans, sans-serif" text-anchor="middle">CCW</text>
<circle cx="89.75" cy="886.5" r="15.2" fill="#efedf0"/>
<line x1="89.75" y1="886.5" x2="101.28" y2="875.19" stroke="#b9a6c6" stroke-width="2.6"/>
<g transform="translate(89.75,886.5) scale(-1,1)"><path d="M9.16,-16.65 A19,19 0 0 1 18.93,-1.66" fill="none" stroke="#2fb0d2" stroke-width="2.38"/><path d="M18.86,2.32 A19,19 0 0 1 -18.9,1.99" fill="none" stroke="#2fb0d2" stroke-width="2.38"/><path d="M-18.9,-1.99 A19,19 0 0 1 -9.16,-16.65" fill="none" stroke="#2fb0d2" stroke-width="2.38"/><path d="M18.99,0.66 L20.05,-3.9 L13.06,-2.54 Z" fill="#2fb0d2"/><path d="M-19,-0.33 L-19.98,4.25 L-13.01,2.77 Z" fill="#2fb0d2"/></g>
<circle cx="89.75" cy="886.5" r="6.75" fill="#16a6e4"/>
<text x="89.75" y="870.88" font-size="6.5" font-weight="bold" fill="#3b98b8" font-family="Liberation Sans, sans-serif" text-anchor="middle">CCW</text>
<circle cx="158" cy="886.5" r="15.2" fill="#efedf0"/>
<line x1="158" y1="886.5" x2="146.48" y2="875.18" stroke="#b9a6c6" stroke-width="2.6"/>
<g transform="translate(158,886.5)"><path d="M6.81,-17.74 A19,19 0 0 1 18.93,-1.66" fill="none" stroke="#45b24f" stroke-width="2.38"/><path d="M18.86,2.32 A19,19 0 0 1 -18.9,1.99" fill="none" stroke="#45b24f" stroke-width="2.38"/><path d="M-18.9,-1.99 A19,19 0 0 1 -6.81,-17.74" fill="none" stroke="#45b24f" stroke-width="2.38"/><path d="M18.99,0.66 L20.05,-3.9 L13.06,-2.54 Z" fill="#45b24f"/><path d="M-19,-0.33 L-19.98,4.25 L-13.01,2.77 Z" fill="#45b24f"/></g>
<circle cx="158" cy="886.5" r="6.75" fill="#25b02b"/>
<text x="158" y="870.88" font-size="6.5" font-weight="bold" fill="#3f9a4c" font-family="Liberation Sans, sans-serif" text-anchor="middle">CW</text>
<path d="M123.9,841.2 L131.7,846.2 L131.7,864.8 L116.1,864.8 L116.1,846.2 Z" fill="#e8e7ea" stroke="#4b3a6b" stroke-width="2.8" stroke-linejoin="round"/>
<line x1="120.9" y1="848" x2="126.9" y2="848" stroke="#4b3a6b" stroke-width="1.4"/>
<line x1="610.9" y1="853" x2="576.75" y2="819" stroke="#4b3a6b" stroke-width="3.1"/>
<line x1="610.9" y1="853" x2="645" y2="819" stroke="#4b3a6b" stroke-width="3.1"/>
<line x1="610.9" y1="853" x2="576.75" y2="886.5" stroke="#4b3a6b" stroke-width="3.1"/>
<line x1="610.9" y1="853" x2="645" y2="886.5" stroke="#4b3a6b" stroke-width="3.1"/>
<circle cx="576.75" cy="819" r="15.2" fill="#efedf0"/>
<line x1="576.75" y1="819" x2="588.19" y2="830.39" stroke="#b9a6c6" stroke-width="2.6"/>
<g transform="translate(576.75,819)"><path d="M6.81,-17.74 A19,19 0 0 1 18.93,-1.66" fill="none" stroke="#45b24f" stroke-width="2.38"/><path d="M18.86,2.32 A19,19 0 0 1 -18.9,1.99" fill="none" stroke="#45b24f" stroke-width="2.38"/><path d="M-18.9,-1.99 A19,19 0 0 1 -6.81,-17.74" fill="none" stroke="#45b24f" stroke-width="2.38"/><path d="M18.99,0.66 L20.05,-3.9 L13.06,-2.54 Z" fill="#45b24f"/><path d="M-19,-0.33 L-19.98,4.25 L-13.01,2.77 Z" fill="#45b24f"/></g>
<circle cx="576.75" cy="819" r="6.75" fill="#25b02b"/>
<text x="576.75" y="803.38" font-size="6.5" font-weight="bold" fill="#3f9a4c" font-family="Liberation Sans, sans-serif" text-anchor="middle">CW</text>
<circle cx="645" cy="819" r="15.2" fill="#efedf0"/>
<line x1="645" y1="819" x2="633.56" y2="830.4" stroke="#b9a6c6" stroke-width="2.6"/>
<g transform="translate(645,819) scale(-1,1)"><path d="M9.16,-16.65 A19,19 0 0 1 18.93,-1.66" fill="none" stroke="#2fb0d2" stroke-width="2.38"/><path d="M18.86,2.32 A19,19 0 0 1 -18.9,1.99" fill="none" stroke="#2fb0d2" stroke-width="2.38"/><path d="M-18.9,-1.99 A19,19 0 0 1 -9.16,-16.65" fill="none" stroke="#2fb0d2" stroke-width="2.38"/><path d="M18.99,0.66 L20.05,-3.9 L13.06,-2.54 Z" fill="#2fb0d2"/><path d="M-19,-0.33 L-19.98,4.25 L-13.01,2.77 Z" fill="#2fb0d2"/></g>
<circle cx="645" cy="819" r="6.75" fill="#16a6e4"/>
<text x="645" y="803.38" font-size="6.5" font-weight="bold" fill="#3b98b8" font-family="Liberation Sans, sans-serif" text-anchor="middle">CCW</text>
<circle cx="576.75" cy="886.5" r="15.2" fill="#efedf0"/>
<line x1="576.75" y1="886.5" x2="588.28" y2="875.19" stroke="#b9a6c6" stroke-width="2.6"/>
<g transform="translate(576.75,886.5) scale(-1,1)"><path d="M9.16,-16.65 A19,19 0 0 1 18.93,-1.66" fill="none" stroke="#2fb0d2" stroke-width="2.38"/><path d="M18.86,2.32 A19,19 0 0 1 -18.9,1.99" fill="none" stroke="#2fb0d2" stroke-width="2.38"/><path d="M-18.9,-1.99 A19,19 0 0 1 -9.16,-16.65" fill="none" stroke="#2fb0d2" stroke-width="2.38"/><path d="M18.99,0.66 L20.05,-3.9 L13.06,-2.54 Z" fill="#2fb0d2"/><path d="M-19,-0.33 L-19.98,4.25 L-13.01,2.77 Z" fill="#2fb0d2"/></g>
<circle cx="576.75" cy="886.5" r="6.75" fill="#16a6e4"/>
<text x="576.75" y="870.88" font-size="6.5" font-weight="bold" fill="#3b98b8" font-family="Liberation Sans, sans-serif" text-anchor="middle">CCW</text>
<circle cx="645" cy="886.5" r="15.2" fill="#efedf0"/>
<line x1="645" y1="886.5" x2="633.48" y2="875.18" stroke="#b9a6c6" stroke-width="2.6"/>
<g transform="translate(645,886.5)"><path d="M6.81,-17.74 A19,19 0 0 1 18.93,-1.66" fill="none" stroke="#45b24f" stroke-width="2.38"/><path d="M18.86,2.32 A19,19 0 0 1 -18.9,1.99" fill="none" stroke="#45b24f" stroke-width="2.38"/><path d="M-18.9,-1.99 A19,19 0 0 1 -6.81,-17.74" fill="none" stroke="#45b24f" stroke-width="2.38"/><path d="M18.99,0.66 L20.05,-3.9 L13.06,-2.54 Z" fill="#45b24f"/><path d="M-19,-0.33 L-19.98,4.25 L-13.01,2.77 Z" fill="#45b24f"/></g>
<circle cx="645" cy="886.5" r="6.75" fill="#25b02b"/>
<text x="645" y="870.88" font-size="6.5" font-weight="bold" fill="#3f9a4c" font-family="Liberation Sans, sans-serif" text-anchor="middle">CW</text>
<path d="M610.9,841.2 L618.7,846.2 L618.7,864.8 L603.1,864.8 L603.1,846.2 Z" fill="#e8e7ea" stroke="#4b3a6b" stroke-width="2.8" stroke-linejoin="round"/>
<line x1="607.9" y1="848" x2="613.9" y2="848" stroke="#4b3a6b" stroke-width="1.4"/>
</svg></body></html>
